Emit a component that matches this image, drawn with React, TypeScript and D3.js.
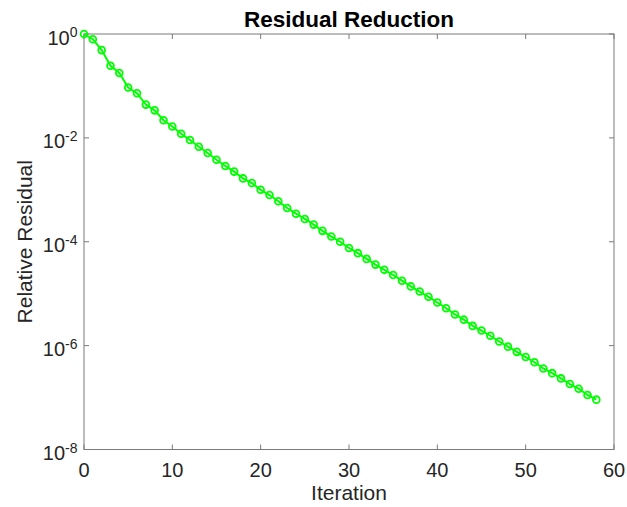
import React from "react";
import * as d3 from "d3";

const iterations = d3.range(0, 59);
const residuals = [
  1, 0.794, 0.49, 0.245, 0.178, 0.0933, 0.0724, 0.0437, 0.0339, 0.0219, 0.0166,
  1.2e-2, 9.12e-3, 6.76e-3, 5.13e-3, 3.8e-3, 2.88e-3, 2.24e-3, 1.66e-3, 1.35e-3, 1.0e-3,
  7.94e-4, 6.03e-4, 4.47e-4, 3.47e-4, 2.75e-4, 2.14e-4, 1.62e-4, 1.26e-4, 1.0e-4,
  7.59e-5, 6.03e-5, 4.68e-5, 3.63e-5, 2.88e-5, 2.29e-5, 1.78e-5, 1.38e-5, 1.1e-5,
  8.71e-6, 6.76e-6, 5.25e-6, 3.98e-6, 3.16e-6, 2.4e-6, 1.95e-6, 1.55e-6, 1.2e-6,
  9.55e-7, 7.59e-7, 6.03e-7, 4.79e-7, 3.63e-7, 2.95e-7, 2.34e-7, 1.82e-7, 1.48e-7,
  1.12e-7, 9.12e-8,
];
const xTicks = [0, 10, 20, 30, 40, 50, 60];
const yTickExponents = [0, -2, -4, -6, -8];
const titleText = "Residual Reduction";
const xLabelText = "Iteration";
const yLabelText = "Relative Residual";

const W = 627;
const H = 507;
const L = 84;
const R = 614;
const T = 34;
const B = 449.5;
const FONT = "'Liberation Sans', Arial, Helvetica, sans-serif";
const AXIS = "#7a7a7a";
const TEXT = "#262626";
const TICK = 5;

export default function App() {
  const x = d3.scaleLinear().domain([0, 60]).range([L, R]);
  const y = d3.scaleLog().domain([1e-8, 1]).range([B, T]);
  const line = d3
    .line<number>()
    .x((_, i) => x(iterations[i]))
    .y((d) => y(d));

  return (
    <svg
      width={W}
      height={H}
      style={{ position: "absolute", left: 0, top: 0, background: "#fff" }}
      fontFamily={FONT}
    >
      <rect x={0} y={0} width={W} height={H} fill="#fff" />
      {/* box */}
      <rect x={L} y={T} width={R - L} height={B - T} fill="none" stroke={AXIS} strokeWidth={1} />
      {/* x ticks */}
      {xTicks.map((t) => (
        <g key={"xt" + t}>
          <line x1={x(t)} x2={x(t)} y1={B} y2={B - TICK} stroke={AXIS} />
          <line x1={x(t)} x2={x(t)} y1={T} y2={T + TICK} stroke={AXIS} />
          <text x={x(t)} y={B + 27} textAnchor="middle" fontSize={20} fill={TEXT}>
            {t}
          </text>
        </g>
      ))}
      {/* y ticks */}
      {yTickExponents.map((e) => {
        const yy = y(Math.pow(10, e));
        return (
          <g key={"yt" + e}>
            <line x1={L} x2={L + TICK} y1={yy} y2={yy} stroke={AXIS} />
            <line x1={R} x2={R - TICK} y1={yy} y2={yy} stroke={AXIS} />
            <text x={L - 6.5} y={yy + 10.5} textAnchor="end" fontSize={20} fill={TEXT}>
              10
              <tspan fontSize={14} dy={-7.5}>
                {e}
              </tspan>
            </text>
          </g>
        );
      })}
      {/* series */}
      <path d={line(residuals) || ""} fill="none" stroke="#00ff00" strokeWidth={2} />
      {residuals.map((v, i) => (
        <circle
          key={"c" + i}
          cx={x(iterations[i])}
          cy={y(v)}
          r={3.4}
          fill="none"
          stroke="#00ff00"
          strokeWidth={1.8}
        />
      ))}
      {/* labels */}
      <text
        x={(L + R) / 2}
        y={27}
        textAnchor="middle"
        fontSize={22.5}
        fontWeight="bold"
        fill="#000"
      >
        {titleText}
      </text>
      <text x={(L + R) / 2} y={B + 50} textAnchor="middle" fontSize={21} fill={TEXT}>
        {xLabelText}
      </text>
      <text
        transform={`translate(${31.5},${(T + B) / 2}) rotate(-90)`}
        textAnchor="middle"
        fontSize={21}
        fill={TEXT}
      >
        {yLabelText}
      </text>
    </svg>
  );
}
